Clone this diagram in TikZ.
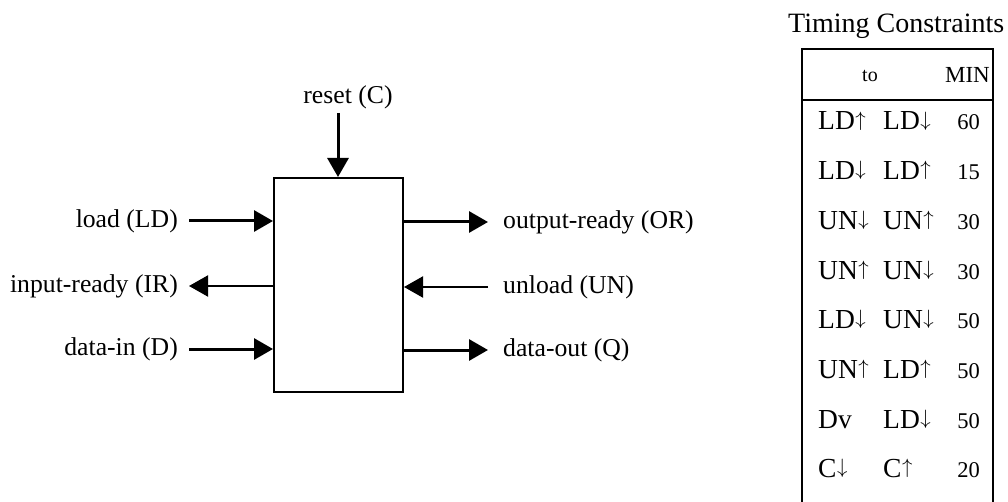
\documentclass[tikz,border=0pt]{standalone}
\usepackage{fontspec}
\setmainfont{Liberation Serif}
\usetikzlibrary{arrows.meta}
% thin, cap-height transition arrows for the table
\newcommand{\riseup}{{\kern0.5pt\fontsize{20.5}{22}\selectfont\raisebox{0.194em}{$\uparrow$}}}
\newcommand{\falldn}{{\kern0.5pt\fontsize{20.5}{22}\selectfont\raisebox{0.194em}{$\downarrow$}}}
\begin{document}
\begin{tikzpicture}[x=1pt,y=-1pt,
  lbl/.style={font=\fontsize{25.7}{30}\selectfont, inner sep=0pt},
  sig/.style={line width=3pt, -{Triangle[length=19pt,width=21pt]}},
  sigthin/.style={line width=2pt, -{Triangle[length=19pt,width=21pt]}},
  cell/.style={font=\fontsize{27.5}{30}\selectfont, inner sep=0pt, anchor=base west},
  num/.style={font=\fontsize{22.5}{26}\selectfont, inner sep=0pt, anchor=base east},
  frame/.style={line width=2pt}
]
\useasboundingbox (0,0) rectangle (1008,502);

% the block
\node[draw, line width=2pt, minimum width=129pt, minimum height=214pt, inner sep=0pt] (box) at (338.5,285) {};

% reset input from above
\node[lbl, anchor=base] (rst) at (348,104) {reset (C)};
\coordinate (rsttop) at (338,113);
\draw[sig] (rsttop) -- (rsttop |- box.north);

% left side signals
\node[lbl, anchor=east] (ld) at (178,221) {load (LD)};
\node[lbl, anchor=east] (ir) at (178,286) {input-ready (IR)};
\node[lbl, anchor=east] (din) at (178,349) {data-in (D)};
\coordinate (ldS) at (189,221);
\coordinate (irE) at (189,286);
\coordinate (dinS) at (189,349);
\draw[sig] (ldS) -- (ldS -| box.west);
\draw[sigthin] (irE -| box.west) -- (irE);
\draw[sig] (dinS) -- (dinS -| box.west);

% right side signals
\node[lbl, anchor=west] (ordy) at (503,222) {output-ready (OR)};
\node[lbl, anchor=west] (unl) at (503,287) {unload (UN)};
\node[lbl, anchor=west] (qout) at (503,350) {data-out (Q)};
\coordinate (orE) at (488,222);
\coordinate (unS) at (488,287);
\coordinate (qE) at (488,350);
\draw[sig] (orE -| box.east) -- (orE);
\draw[sigthin] (unS) -- (unS -| box.east);
\draw[sig] (qE -| box.east) -- (qE);

% timing constraints table
\node[font=\fontsize{28}{32}\selectfont, inner sep=0pt, anchor=base west] (title) at (788,33) {Timing Constraints};
\draw[frame] (802,502) -- (802,49) -- (993,49) -- (993,502);
\draw[frame] (802,100) -- (993,100);
\node[font=\fontsize{20}{24}\selectfont, inner sep=0pt, anchor=base] (hto) at (870,82) {to};
\node[font=\fontsize{23}{26}\selectfont, inner sep=0pt, anchor=base east] (hmin) at (990,83) {MIN};

\foreach \a/\b/\n [count=\i] in {LD\riseup/LD\falldn/60, LD\falldn/LD\riseup/15,
    UN\falldn/UN\riseup/30, UN\riseup/UN\falldn/30, LD\falldn/UN\falldn/50,
    UN\riseup/LD\riseup/50, Dv/LD\falldn/50, C\falldn/C\riseup/20} {
  \pgfmathsetmacro{\yb}{130+49.7*(\i-1)}
  \node[cell] (ca\i) at (818,\yb) {\a};
  \node[cell] (cb\i) at (883,\yb) {\b};
  \node[num] (cn\i) at (980,\yb) {\n};
}
\end{tikzpicture}
\end{document}
